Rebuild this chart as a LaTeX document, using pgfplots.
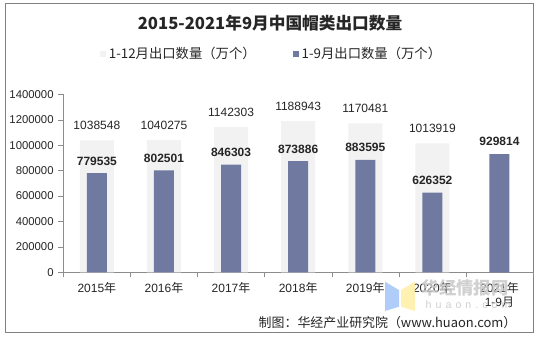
\documentclass[border=0pt]{standalone}
\usepackage{fontspec}
\setmainfont{Liberation Sans}
\newfontfamily\cjk{Noto Sans CJK SC}
\usepackage{pgfplots}
\pgfplotsset{compat=1.18}
\pgfplotsset{/pgf/number format/.cd, fixed, 1000 sep={}, assume math mode=true}
\definecolor{barlight}{RGB}{242,242,242}
\definecolor{barpurple}{RGB}{112,122,160}
\definecolor{framegray}{RGB}{128,128,128}
\definecolor{axisgray}{RGB}{140,140,140}
\definecolor{txt}{RGB}{38,38,38}
\definecolor{wmblue}{RGB}{168,200,250}
\definecolor{wmyellow}{RGB}{255,240,170}
\definecolor{wmgray}{RGB}{200,200,200}
\begin{document}
\begin{tikzpicture}[x=0.75pt,y=0.75pt]
\useasboundingbox (0,0) rectangle (539,-337);
\fill[white] (0,0) rectangle (539,-337);
\draw[framegray, line width=0.75pt] (5,-3) rectangle (533.3,-332);
\node[font=\cjk\bfseries\fontsize{12.5}{14}\selectfont, text=txt] at (270,-23.5) {2015-2021年9月中国帽类出口数量};
\coordinate (AO) at (63.3,-272.3);
\begin{axis}[
  at={(AO)}, anchor=south west,
  scale only axis, width=352.3pt, height=133.5pt,
  xmin=-0.5, xmax=6.5, ymin=0, ymax=1400000,
  clip=false,
  ybar,
  legend image code/.code={\fill[#1] (0pt,-2.25pt) rectangle (4.5pt,2.25pt);},
  axis lines=left, axis line style={draw=axisgray, -},
  tick align=outside,
  major tick length=3.75pt, minor tick length=3.75pt,
  xtick={0,...,6},
  xticklabels={2015{\cjk 年}, 2016{\cjk 年}, 2017{\cjk 年}, 2018{\cjk 年}, 2019{\cjk 年}, 2020{\cjk 年}, {2021{\cjk 年}\\1-9{\cjk 月}}},
  x tick label style={font=\fontsize{9}{11}\selectfont, text=txt, align=center},
  major x tick style={draw=none},
  minor xtick={-0.5,0.5,...,6.5},
  minor x tick style={draw=axisgray},
  ytick={0,200000,...,1400000},
  y tick style={draw=axisgray},
  y tick label style={font=\fontsize{8.5}{10}\selectfont, text=txt},
  scaled y ticks=false,
  legend style={at={(axis description cs:0.078,1.226)}, anchor=west, draw=none, fill=none, inner sep=0pt,
    font=\cjk\fontsize{10}{12}\selectfont, text=txt,
    /tikz/every even column/.append style={column sep=26pt}},
  legend columns=2,
  legend cell align=left,
]
\addplot[bar width=25.5pt, bar shift=0pt, fill=barlight, draw=none,
  nodes near coords, nodes near coords style={font=\fontsize{9}{10}\selectfont, text=txt, yshift=4.5pt}]
  coordinates {(0,1038548) (1,1040275) (2,1142303) (3,1188943) (4,1170481) (5,1013919)};
\addlegendentry{1-12月出口数量（万个）}
\addplot[bar width=15pt, bar shift=0pt, fill=barpurple, draw=none,
  nodes near coords, nodes near coords style={font=\bfseries\fontsize{9}{10}\selectfont, text=txt, yshift=2.5pt}]
  coordinates {(0,779535) (1,802501) (2,846303) (3,873886) (4,883595) (5,626352) (6,929814)};
\addlegendentry{1-9月出口数量（万个）}
\end{axis}
% watermark
\fill[wmblue, opacity=0.9] (385,-281.7) -- (399,-290) -- (399,-306.7) -- (385,-311) -- cycle;
\fill[wmyellow, opacity=0.9] (401,-290) -- (415,-281.7) -- (415,-311) -- (401,-306.7) -- cycle;
\node[font=\cjk\bfseries\fontsize{13}{15}\selectfont, text=wmgray, opacity=0.85, anchor=west] at (417,-288) {华经情报网};
\node[font=\fontsize{8}{9}\selectfont, text=wmgray, opacity=0.85, anchor=west] at (421,-305) {h\hspace{3pt}u\hspace{3pt}a\hspace{3pt}o\hspace{3pt}n\hspace{3pt}.\hspace{3pt}c\hspace{3pt}o\hspace{3pt}m};
\node[font=\cjk\fontsize{9.7}{12}\selectfont, text=txt, anchor=east] at (521,-323) {制图：华经产业研究院（www.huaon.com）};
\end{tikzpicture}
\end{document}
